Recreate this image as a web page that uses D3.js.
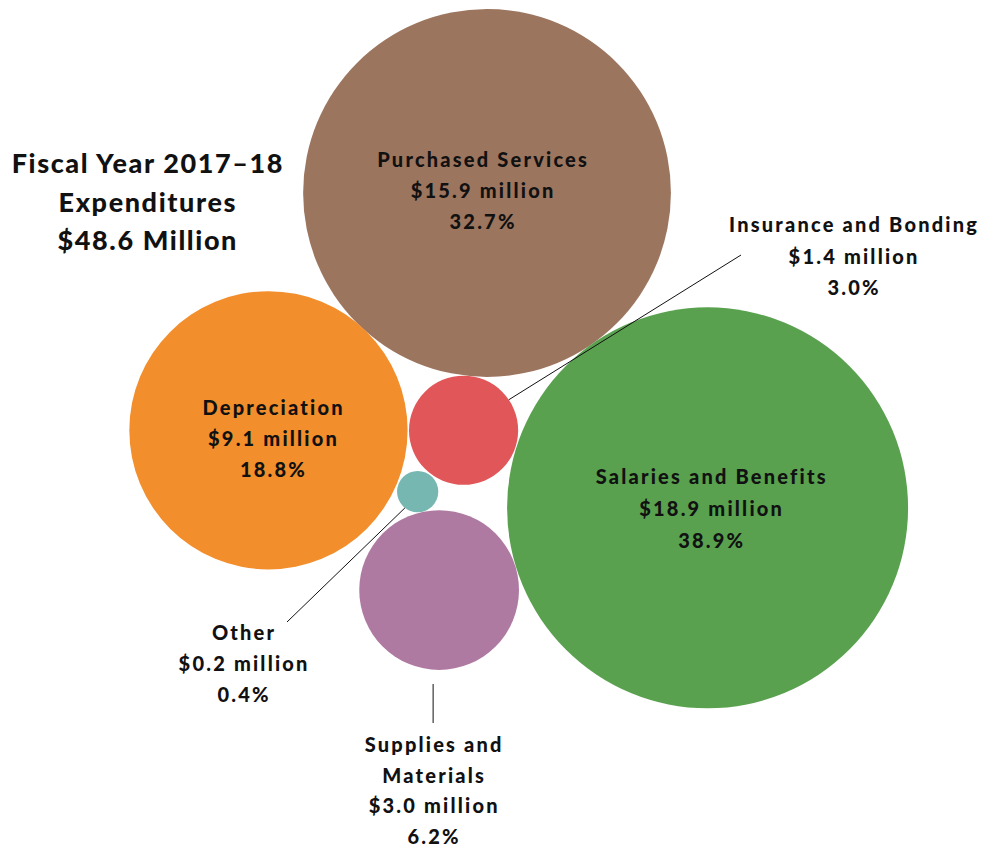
<!DOCTYPE html>
<html>
<head>
<meta charset="utf-8">
<script src="https://cdn.jsdelivr.net/npm/d3@7/dist/d3.min.js"></script>
<style>
  html, body { margin: 0; padding: 0; background: #fff; }
  svg text { font-family: Lato, "Open Sans", sans-serif; font-weight: 900; fill: #111; }
</style>
</head>
<body>
<svg id="chart" width="998" height="852"></svg>
<script>
// Expenditure categories (millions of dollars and share of total)
const categories = ["Purchased Services", "Salaries and Benefits", "Depreciation",
                    "Insurance and Bonding", "Supplies and Materials", "Other"];
const amounts = [15.9, 18.9, 9.1, 1.4, 3.0, 0.2];
const shares = [32.7, 38.9, 18.8, 3.0, 6.2, 0.4];
const titleLines = ["Fiscal Year 2017–18", "Expenditures", "$48.6 Million"];

// Bubble placement in layout units (0–100 across each axis)
const layoutX = [48.8, 70.9, 26.9, 46.45, 44.0, 41.85];
const layoutY = [22.65, 59.6, 50.5, 50.5, 69.25, 57.7];

const svg = d3.select("#chart");
const W = 998, H = 852;

const x = d3.scaleLinear().domain([0, 100]).range([0, W]);
const y = d3.scaleLinear().domain([0, 100]).range([0, H]);
const r = d3.scaleSqrt().domain([0, d3.max(amounts)]).range([0, 200.5]);
const color = d3.scaleOrdinal()
  .domain(categories)
  .range([d3.schemeTableau10[8], d3.schemeTableau10[4], d3.schemeTableau10[1],
          d3.schemeTableau10[2], d3.schemeTableau10[6], d3.schemeTableau10[3]]);

const data = categories.map((c, i) => ({
  name: c, amount: amounts[i], share: shares[i], cx: x(layoutX[i]), cy: y(layoutY[i])
}));

svg.append("g").selectAll("circle")
  .data(data)
  .join("circle")
  .attr("cx", d => d.cx)
  .attr("cy", d => d.cy)
  .attr("r", d => r(d.amount))
  .attr("fill", d => color(d.name));

const fmtMoney = d => `$${d.amount.toFixed(1)} million`;
const fmtPct = d => `${d.share.toFixed(1)}%`;

// label blocks: name lines, then amount and percentage
const LS = 2.2;
function labelBlock(cx, firstY, lines, lh) {
  const t = svg.append("text").attr("text-anchor", "middle")
    .attr("font-size", 20).attr("letter-spacing", LS);
  lines.forEach((s, i) => {
    t.append("tspan").attr("x", cx + LS / 2).attr("y", firstY + i * lh).text(s);
  });
}

const byName = Object.fromEntries(data.map(d => [d.name, d]));
const lines = d => [d.name, fmtMoney(d), fmtPct(d)];

// inside labels
labelBlock(byName["Purchased Services"].cx - 5, 167, lines(byName["Purchased Services"]), 31);
labelBlock(byName["Salaries and Benefits"].cx + 3, 484, lines(byName["Salaries and Benefits"]), 32);
labelBlock(byName["Depreciation"].cx + 4, 415, lines(byName["Depreciation"]), 31);

// outside labels
labelBlock(853, 232, lines(byName["Insurance and Bonding"]), 31.5);
labelBlock(243, 640, lines(byName["Other"]), 31);
const sup = byName["Supplies and Materials"];
labelBlock(sup.cx - 6, 752, ["Supplies and", "Materials", fmtMoney(sup), fmtPct(sup)], 30.7);

// leader lines
const ins = byName["Insurance and Bonding"];
const oth = byName["Other"];
const leaders = [
  { from: ins, angle: -34, end: [741, 255] },
  { from: oth, angle: 128, end: [287, 622] },
  { from: sup, angle: 90, end: [sup.cx - 6, 723], start: [sup.cx - 6, 684] }
];
svg.append("g").selectAll("line")
  .data(leaders)
  .join("line")
  .attr("x1", d => d.start ? d.start[0] : d.from.cx + r(d.from.amount) * Math.cos(d.angle * Math.PI / 180))
  .attr("y1", d => d.start ? d.start[1] : d.from.cy + r(d.from.amount) * Math.sin(d.angle * Math.PI / 180))
  .attr("x2", d => d.end[0])
  .attr("y2", d => d.end[1])
  .attr("stroke", "#111")
  .attr("stroke-width", 1);

// title
const TS = 1.6;
const title = svg.append("text").attr("text-anchor", "middle")
  .attr("font-size", 27).attr("letter-spacing", TS);
titleLines.forEach((s, i) => {
  title.append("tspan").attr("x", 147 + TS / 2).attr("y", 173 + i * 38.5).text(s);
});
</script>
</body>
</html>
